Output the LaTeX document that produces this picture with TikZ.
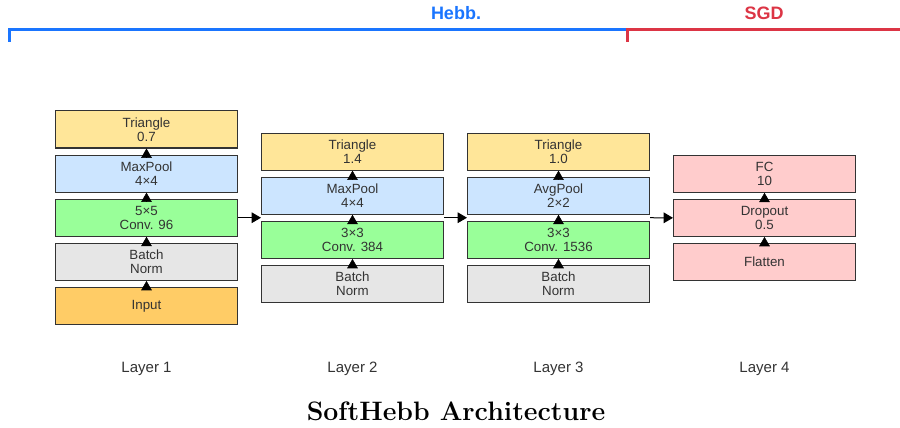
\documentclass[tikz,border=0pt]{standalone}
\usepackage{fontspec}
\usepackage{tikz}
\usetikzlibrary{positioning,arrows.meta}
\newfontfamily\arialf{Liberation Sans}
\definecolor{TriYellow}{HTML}{FFE699}
\definecolor{PoolBlue}{HTML}{CCE5FF}
\definecolor{ConvGreen}{HTML}{99FF99}
\definecolor{NormGray}{HTML}{E6E6E6}
\definecolor{InOrange}{HTML}{FFCC66}
\definecolor{SgdPink}{HTML}{FFCCCC}
\definecolor{EdgeGray}{HTML}{333333}
\definecolor{HebbBlue}{HTML}{1A75FF}
\definecolor{SgdRed}{HTML}{DC3545}

\begin{document}
\begin{tikzpicture}[x=0.75pt,y=0.75pt,>={Triangle[length=7pt,width=8pt]},node distance=4.5pt]
  \tikzstyle{blk}=[draw=EdgeGray,line width=0.8pt,minimum width=136.5pt,minimum height=27.8pt,
    inner sep=0pt,align=center,text=EdgeGray,font=\arialf\fontsize{10}{10.5}\selectfont]
  \tikzstyle{lbl}=[text=EdgeGray,font=\arialf\fontsize{11.25}{13}\selectfont]
  \tikzstyle{phase}=[font=\arialf\bfseries\fontsize{13.5}{15}\selectfont]
  \useasboundingbox (0,0) rectangle (900,428);
  % layer 1
  \node[blk,fill=InOrange] (in1) at (146.5,122) {Input};
  \node[blk,fill=NormGray,above=of in1] (bn1) {Batch\\Norm};
  \node[blk,fill=ConvGreen,above=of bn1] (conv1) {5×5\\Conv. 96};
  \node[blk,fill=PoolBlue,above=of conv1] (pool1) {MaxPool\\4×4};
  \node[blk,fill=TriYellow,above=of pool1] (tri1) {Triangle\\0.7};
  % layer 2
  \node[blk,fill=NormGray] (bn2) at (352.5,144) {Batch\\Norm};
  \node[blk,fill=ConvGreen,above=of bn2] (conv2) {3×3\\Conv. 384};
  \node[blk,fill=PoolBlue,above=of conv2] (pool2) {MaxPool\\4×4};
  \node[blk,fill=TriYellow,above=of pool2] (tri2) {Triangle\\1.4};
  % layer 3
  \node[blk,fill=NormGray] (bn3) at (558.5,144) {Batch\\Norm};
  \node[blk,fill=ConvGreen,above=of bn3] (conv3) {3×3\\Conv. 1536};
  \node[blk,fill=PoolBlue,above=of conv3] (pool3) {AvgPool\\2×2};
  \node[blk,fill=TriYellow,above=of pool3] (tri3) {Triangle\\1.0};
  % layer 4
  \node[blk,fill=SgdPink] (flat4) at (764.5,166) {Flatten};
  \node[blk,fill=SgdPink,above=of flat4] (drop4) {Dropout\\0.5};
  \node[blk,fill=SgdPink,above=of drop4] (fc4) {FC\\10};
  % arrows inside the layers
  \draw[->] (in1) -- (bn1);
  \draw[->] (bn1) -- (conv1);
  \draw[->] (conv1) -- (pool1);
  \draw[->] (pool1) -- (tri1);
  \draw[->] (bn2) -- (conv2);
  \draw[->] (conv2) -- (pool2);
  \draw[->] (pool2) -- (tri2);
  \draw[->] (bn3) -- (conv3);
  \draw[->] (conv3) -- (pool3);
  \draw[->] (pool3) -- (tri3);
  \draw[->] (flat4) -- (drop4);
  \draw[->] (drop4) -- (fc4);
  % arrows between the layers
  \draw[->,line width=0.75pt] (conv1.east) -- (conv1.east -| bn2.west);
  \draw[->,line width=0.75pt] (conv1.east -| bn2.east) -- (conv1.east -| bn3.west);
  \draw[->,line width=0.75pt] (conv1.east -| bn3.east) -- (drop4.west);
  % layer names
  \node[lbl] (n1) at (146.5,59) {Layer 1};
  \node[lbl] (n2) at (352.5,59) {Layer 2};
  \node[lbl] (n3) at (558.5,59) {Layer 3};
  \node[lbl] (n4) at (764.5,59) {Layer 4};
  \node[font=\bfseries\fontsize{20}{24}\selectfont] (title) at (456,17) {SoftHebb Architecture};
  % training phases
  \coordinate (hb0) at (9,386);
  \coordinate (hb1) at (9,398);
  \coordinate (hb2) at (627,398);
  \coordinate (sg0) at (627,386);
  \coordinate (sg1) at (900,398);
  \draw[HebbBlue,line width=2.25pt] (hb0) -- (hb1) -- (hb2);
  \draw[SgdRed,line width=2.25pt] (sg0) -- (hb2) -- (sg1);
  \node[phase,text=HebbBlue] (hebb) at (456,415) {Hebb.};
  \node[phase,text=SgdRed] (sgd) at (764,415) {SGD};
\end{tikzpicture}
\end{document}
